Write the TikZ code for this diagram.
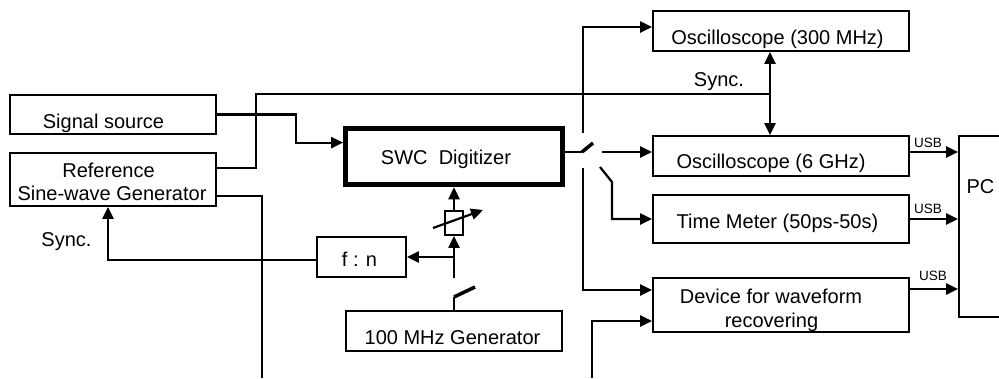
\documentclass[tikz,border=0pt]{standalone}
\usepackage{fontspec}
\setmainfont{Liberation Sans}
\usetikzlibrary{arrows.meta}

\begin{document}
\begin{tikzpicture}[x=1pt,y=-1pt,
	box/.style={draw,line width=1.8pt,inner sep=0pt},
	lbl/.style={anchor=base,inner sep=0pt,font=\fontsize{20}{24}\selectfont},
	usb/.style={anchor=base west,inner sep=0pt,font=\fontsize{13.5}{16}\selectfont},
	conn/.style={line width=2.2pt},
	blade/.style={line width=3.5pt},
	>={Triangle[length=12pt,width=11pt]}]
			\useasboundingbox (0,0) rectangle (999,378);
			% boxes
			\draw (113,114.5) node [box,minimum width=206pt,minimum height=39pt] (sigsrc) {};
			\draw (113,179.5) node [box,minimum width=206pt,minimum height=53pt] (refgen) {};
			\draw (454,156.6) node [box,line width=5pt,minimum width=216.7pt,minimum height=56.3pt] (dig) {};
			\draw (361.5,257) node [box,minimum width=89pt,minimum height=40pt] (fn) {};
			\draw (454,223) node [box,minimum width=18pt,minimum height=24pt] (phs) {};
			\draw (454,331) node [box,minimum width=216pt,minimum height=40pt] (gen) {};
			\draw (781,31) node [box,minimum width=256pt,minimum height=40pt] (osc300) {};
			\draw (781,156) node [box,minimum width=256pt,minimum height=40pt] (osc6) {};
			\draw (781,219) node [box,minimum width=256pt,minimum height=48pt] (timer) {};
			\draw (781,305) node [box,minimum width=256pt,minimum height=54pt] (dev) {};
			\draw (999,226.5) node [box,minimum width=80pt,minimum height=181pt] (pc) {};
			% texts
			\draw (103.5,128) node [lbl] (sigsrctxt) {Signal source};
			\draw (108.5,177) node [lbl] (reftxt) {Reference};
			\draw (112,200) node [lbl] (sinetxt) {Sine-wave Generator};
			\draw (446,164) node [lbl] (digtxt) {SWC\ \ Digitizer};
			\draw (359.5,266) node [lbl] (fntxt) {f : n};
			\draw (452.5,344) node [lbl] (gentxt) {100 MHz Generator};
			\draw (777.5,44) node [lbl] (osc300txt) {Oscilloscope (300 MHz)};
			\draw (771,168) node [lbl] (osc6txt) {Oscilloscope (6 GHz)};
			\draw (777.5,228) node [lbl] (timertxt) {Time Meter (50ps-50s)};
			\draw (771,303) node [lbl] (devtxt) {Device for waveform};
			\draw (771.5,327) node [lbl] (rectxt) {recovering};
			\draw (980.5,193) node [lbl] (pctxt) {PC};
			\draw (719,86) node [lbl] (syncr) {Sync.};
			\draw (66.5,246) node [lbl] (syncl) {Sync.};
			% switch points and free ends
			\coordinate (syncj) at (770,94);
			\coordinate (refout) at (262,378);
			\coordinate (sw1) at (454,297);
			\coordinate (sw1b) at (454,278);
			\coordinate (sw2) at (582,152);
			\coordinate (sw2a) at (602,152);
			\coordinate (sw2u) at (583,133);
			\coordinate (sw2d) at (583,168);
			\coordinate (sw2t) at (600,167);
			\coordinate (wfin) at (592,378);
			% connections
			\draw[conn,->] (sigsrc.east) -- ++(79,0) |- ([yshift=14pt]dig.west);
			\draw[conn] ([yshift=11.5pt]refgen.east) -- ++(39,0) |- (syncj);
			\draw[conn,<->] (syncj |- osc300.south) -- (syncj |- osc6.north);
			\draw[conn] ([yshift=-16.5pt]refgen.east) -| (refout);
			\draw[conn,->] ([yshift=-3pt]fn.west) -| ([xshift=-5pt]refgen.south);
			\draw[conn] (gen.north) -- (sw1);
			\draw[blade] (sw1) -- ++(21,-10);
			\draw[conn,->] (sw1b) -- (phs.south);
			\draw[conn,->] (sw1b |- fn.east) -- (fn.east);
			\draw[conn,->] (phs.north) -- (dig.south);
			\draw[conn,->] ([shift={(-21,5)}]phs.center) -- ++(50,-18);
			\draw[conn] ([yshift=4.6pt]dig.east) -- (sw2);
			\draw[blade] (sw2) -- ++(11,-9);
			\draw[conn,->] (sw2a) -- (sw2a -| osc6.west);
			\draw[conn,->] (sw2u) |- ([yshift=4pt]osc300.west);
			\draw[conn,->] (sw2d) |- ([yshift=15pt]dev.west);
			\draw[conn,->] (sw2t) -- ++(12,15) |- (timer.west);
			\draw[conn,->] (wfin) |- ([yshift=-16pt]dev.west);
			\draw[conn,->] ([yshift=4pt]osc6.east) -- (pc.west |- sw2) node [usb,pos=0,xshift=3pt,yshift=5pt] (usb1) {USB};
			\draw[conn,->] (timer.east) -- (timer.east -| pc.west) node [usb,pos=0,xshift=3pt,yshift=6pt] (usb2) {USB};
			\draw[conn,->] ([yshift=16pt]dev.east) -- (pc.west |- 0,289) node [usb,pos=0,xshift=8pt,yshift=9pt] (usb3) {USB};
		\end{tikzpicture}
\end{document}
